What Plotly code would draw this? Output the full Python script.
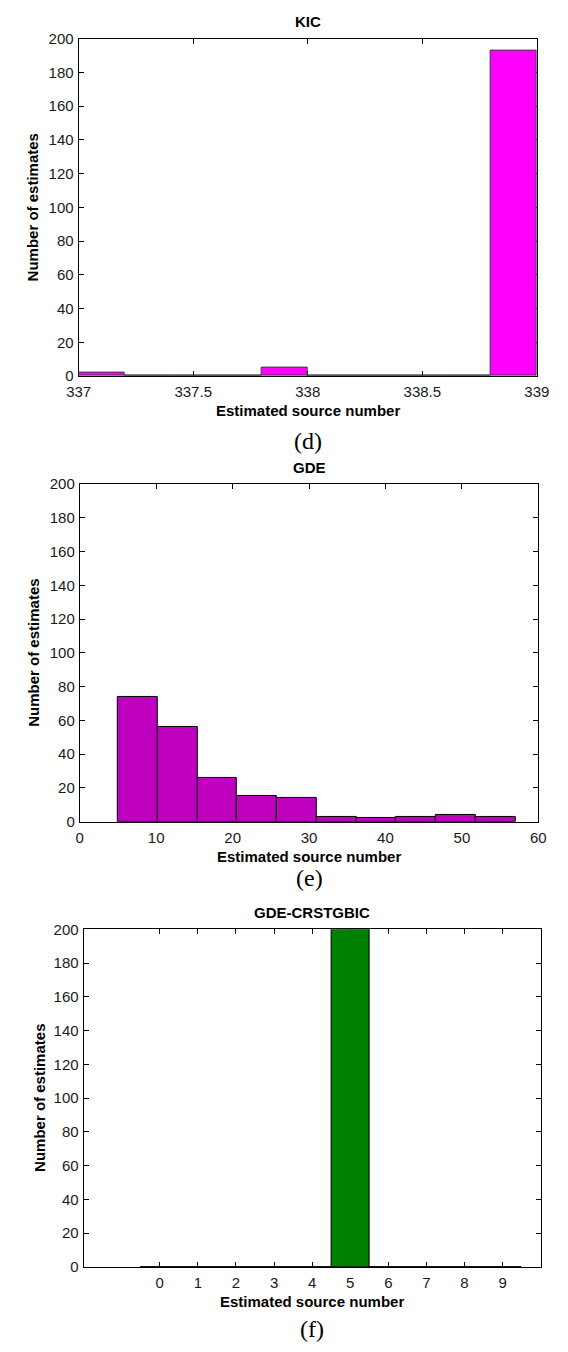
import numpy as np
import plotly.graph_objects as go

# ---------------- data ----------------
kic_edges = [337.0, 337.2, 337.4, 337.6, 337.8, 338.0, 338.2, 338.4, 338.6, 338.8, 339.0]
kic_counts = [2, 0, 0, 0, 5, 0, 0, 0, 0, 193]
kic_ticks = [337, 337.5, 338, 338.5, 339]
kic_ticktext = ["337", "337.5", "338", "338.5", "339"]

gde_edges = [5.0, 10.2, 15.4, 20.6, 25.8, 31.0, 36.2, 41.4, 46.6, 51.8, 57.0]
gde_counts = [74, 56, 26, 15, 14, 3, 2, 3, 4, 3]
gde_ticks = [0, 10, 20, 30, 40, 50, 60]

crs_values = [0, 1, 2, 3, 4, 5, 6, 7, 8, 9]
crs_counts = [0, 0, 0, 0, 0, 200, 0, 0, 0, 0]

y_ticks = [0, 20, 40, 60, 80, 100, 120, 140, 160, 180, 200]

titles = ["KIC", "GDE", "GDE-CRSTGBIC"]
captions = ["(d)", "(e)", "(f)"]
x_title = "Estimated source number"
y_title = "Number of estimates"

# ---------------- layout helpers ----------------
W, H = 568, 1352
def px(x):
    return x / W
def py(y):
    return 1 - y / H

panels = [
    dict(x0=68.8, x1=549.0, y0=30.0, y1=371.7, cap=437, ytx=20),
    dict(x0=70.0, x1=550.5, y0=481.0, y1=823.0, cap=880, ytx=22),
    dict(x0=74.0, x1=553.0, y0=932.0, y1=1274.0, cap=1337, ytx=27),
]

fig = go.Figure()

def centers(edges):
    e = np.array(edges)
    return (e[:-1] + e[1:]) / 2, np.diff(e)

c1, w1 = centers(kic_edges)
fig.add_trace(go.Bar(x=c1, y=kic_counts, width=w1,
                     marker=dict(color="#FF00FF", line=dict(color="#3a3a3a", width=1)),
                     xaxis="x", yaxis="y", showlegend=False))
c2, w2 = centers(gde_edges)
fig.add_trace(go.Bar(x=c2, y=gde_counts, width=w2,
                     marker=dict(color="#BF00BF", line=dict(color="#000000", width=1)),
                     xaxis="x2", yaxis="y2", showlegend=False))
fig.add_trace(go.Bar(x=crs_values, y=crs_counts, width=1.0,
                     marker=dict(color="#008000", line=dict(color="#000000", width=1)),
                     xaxis="x3", yaxis="y3", showlegend=False))

sans = "Liberation Sans, Arial, sans-serif"
serif = "Liberation Serif, Times New Roman, serif"
tickfont = dict(family=sans, size=15, color="#1a1a1a")
common_axis = dict(showline=True, linecolor="black", linewidth=1, mirror="ticks", ticks="inside",
                   ticklen=5, tickcolor="black", tickwidth=1, showgrid=False, zeroline=False,
                   tickfont=tickfont, layer="below traces", fixedrange=True)

xranges = [[337, 339], [0, 60], [-2, 10]]
xtickvals = [kic_ticks, gde_ticks, crs_values]
xticktext = [kic_ticktext, [str(t) for t in gde_ticks], [str(v) for v in crs_values]]

layout = dict(width=W, height=H, margin=dict(l=0, r=0, t=0, b=0), paper_bgcolor="white",
              plot_bgcolor="white", bargap=0, barmode="overlay")
annotations = []
for i, p in enumerate(panels):
    sfx = "" if i == 0 else str(i + 1)
    layout["xaxis" + sfx] = dict(common_axis, domain=[px(p["x0"]), px(p["x1"])], range=xranges[i],
                                 tickvals=xtickvals[i], ticktext=xticktext[i],
                                 ticklabelstandoff=2, anchor="y" + sfx)
    layout["yaxis" + sfx] = dict(common_axis, domain=[py(p["y1"]), py(p["y0"])], range=[0, 200],
                                 tickvals=y_ticks, ticklabelstandoff=1, anchor="x" + sfx)
    cx = px((p["x0"] + p["x1"]) / 2)
    annotations.append(dict(text="<b>" + titles[i] + "</b>", x=cx, y=py(p["y0"] - 17), xref="paper", yref="paper",
                            showarrow=False, xanchor="center", yanchor="middle",
                            font=dict(family=sans, size=15, color="black")))
    annotations.append(dict(text="<b>" + x_title + "</b>", x=cx, y=py(p["y1"] + 35), xref="paper", yref="paper",
                            showarrow=False, xanchor="center", yanchor="middle",
                            font=dict(family=sans, size=15, color="black")))
    annotations.append(dict(text=captions[i], x=cx, y=py(p["cap"]), xref="paper", yref="paper",
                            showarrow=False, xanchor="center", yanchor="middle",
                            font=dict(family=serif, size=24, color="black")))
    annotations.append(dict(text="<b>" + y_title + "</b>", x=px(p["ytx"]), y=py((p["y0"] + p["y1"]) / 2),
                            xref="paper", yref="paper", showarrow=False, textangle=-90,
                            xanchor="center", yanchor="middle",
                            font=dict(family=sans, size=15, color="black")))
layout["annotations"] = annotations
fig.update_layout(**layout)
fig.write_html("out.html")
